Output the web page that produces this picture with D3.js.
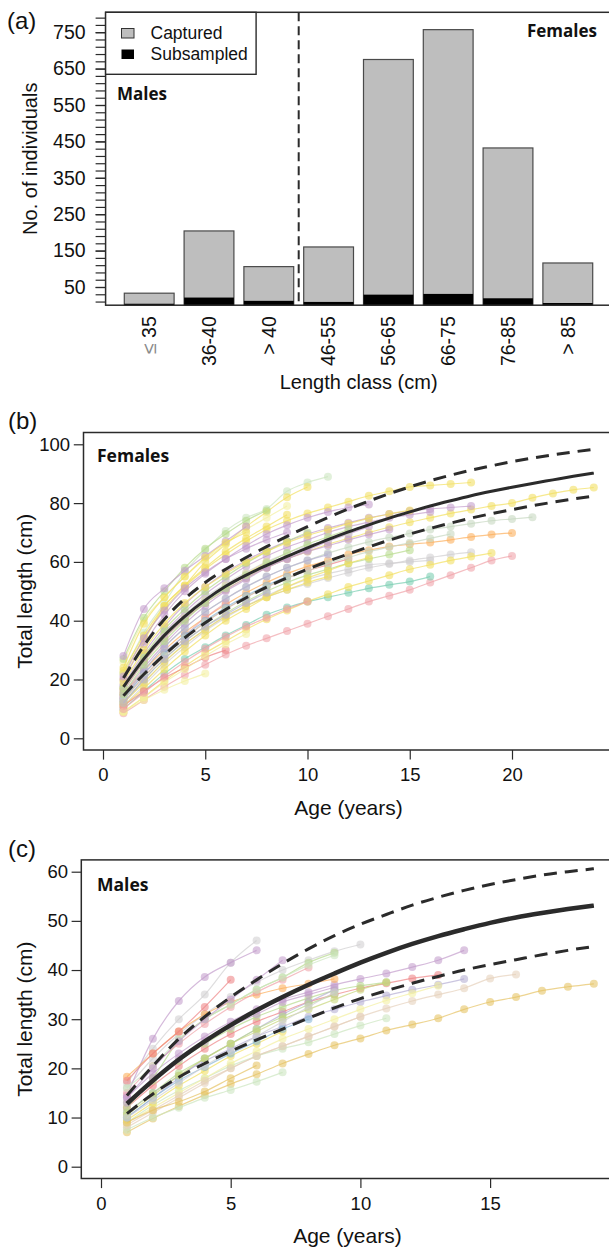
<!DOCTYPE html>
<html>
<head>
<meta charset="utf-8">
<script src="https://cdn.jsdelivr.net/npm/d3@7"></script>
<style>
  body { margin: 0; background: #fff; }
  svg { display: block; }
  text { font-family: "Liberation Sans", Arial, sans-serif; fill: #111; }
  .tag { font-family: "Open Sans", "Noto Sans", sans-serif; font-weight: 700; }
</style>
</head>
<body>
<svg id="chart" width="609" height="1249"></svg>
<script>
// ---- data: panel (a) ----
const lengthClasses = ["≤ 35", "36-40", "> 40", "46-55", "56-65", "66-75", "76-85", "> 85"];
const captured   = [33, 204, 106, 160, 675, 757, 432, 116];
const subsampled = [4, 21, 12, 9, 29, 31, 19, 6];
const countTicks = [50, 150, 250, 350, 450, 550, 650, 750];
const countMinorTicks = [10, 30, 50, 70, 90, 110, 130, 150, 170, 190, 210, 230, 250, 270, 290, 310, 330, 350,
  370, 390, 410, 430, 450, 470, 490, 510, 530, 550, 570, 590, 610, 630, 650, 670, 690, 710, 730, 750, 770, 790];

// ---- data: panel (b) females ----
const femaleAges  = [1,2,3,4,5,6,7,8,9,10,11,12,13,14,15,16,17,18,19,20,21,22,23,24];
const femaleMean  = [17.5,27,35,41.5,47,51.7,55.5,58.8,61.9,64.8,67.6,70.2,72.6,74.9,77,79,80.8,82.5,84,85.4,86.7,87.9,89.1,90.2];
const femaleUpper = [20.5,31.5,40.5,47.5,53,57.5,61.5,65.2,68.7,72,75.1,78,80.7,83.2,85.5,87.6,89.5,91.2,92.7,94.1,95.3,96.4,97.4,98.3];
const femaleLower = [14.5,21.8,28.4,34.2,39.3,43.8,47.8,51.4,54.6,57.5,60.2,62.7,65.1,67.4,69.5,71.4,73.2,74.9,76.4,77.8,79.1,80.3,81.4,82.4];
const femaleYTicks = [0, 20, 40, 60, 80, 100];
const femaleXTicks = [0, 5, 10, 15, 20];

// each fish: lengths at ages 1, 2, 3, ...
const femaleTracks = [
  [8.5,13,17.5,21.5,25,28.5,31.5,34,36.5,39,41.5,44,46.5,48.5,50.5,53,55.5,58,60.5,62],
  [15,23,30,36,41,45.5,49.5,53,56,58.5,60.5,62.5,64,65.2,66,66.6,67.5,68.5,69.3,69.8],
  [16,26,34,40.5,46,50.5,54.5,58,61,63.5,66,68,70,71.8,73.5,75,76.5,77.8,79,80,81.8,83.3,84.5,85.3],
  [14,23,31,37.5,43,47.5,51.5,55,58,60.5,63,65,66.8,68.3,69.7,71,72,73,74,74.6,75.2],
  [18,29,38,45.5,51.5,56.5,60.5,64,67,69.5,71.5,73.3,75,76.3,77.3,78,78.5,79],
  [17,27,36,43,49,54,58.5,62,65,67.5,70,72,73.5,75,76,77],
  [12,19,26,32,37,41.5,45,48,50.5,52.5,54.5,56.3,58,59.3,60.5,61.5,62.5,63.3],
  [22,34,44,51.5,57.5,62.5,67,71,74,76.5,78.5,80.5,82.5,84,85.5,86,86.5,87],
  [22,36,46,56.5,64,70.5,75,78,84,87,89],
  [20,33,45,52,60,66,72,77,82,85.5],
  [10,16,22,27,31,35,38.5,42,44.5,46.5,48,49.5,51,52.2,53.3,55],
  [15,24,32,39,45,50,54,58,61,64,67,69.5,72],
  [20,32,42,50,56,61,65.5,69.5,72.5,75,77,78.5,79.5],
  [13,21,28,34,39.5,44,48,51.5,54.5,57,59,61],
  [11,18,25,31,36.5,41,45,48.5,51.5,54,56,57.5,59,59.5,60,60.5],
  [9,14,19.5,24.5,29,33,37,40.5,43.5,46.5,49,51.5,53.5,55.5,57.5,59,60.5,61.8,63],
  [12,20,27,33,38,42.5,46.5,50,53,55.5,57.5,59.5,61,62.5,64],
  [26,40,48,55,61,66,71,75,79],
  [27,41,50,58,64.5,69.5,74,77.5],
  [28,44,51,57,62,67,72],
  [23,35,45,52,58,63.5,68,72,76],
  [14,22,29,35,41,46],
  [9,13,16.5,19.5,22],
  [17,27,35,41,47,52,56,60],
  [18,28,36,42,48,52.5,56.5,60,63,65.5,67.5,69.5],
  [16,26,34,40.5,46,50.5,54.5,58,61,63.5,65.5,67.5,69.3,71],
  [17,28,37,44,50,55,59.5,63.5,67,70],
  [13,22,29,35,40,44.5,48.5,52,55],
  [11,17,23.5,29.5,35,40,44,48,51.5,54.5,57,59.5,61.5],
  [14,23,31,37.5,43,47.5,51.5,55,58,60.5,62.5],
  [11,16,20.5,24,27.5,30],
  [9,14,19,23.5,28,32,35.5],
  [13,21,28,34,39.5,44,48,51.5,54.5,57,59.5,61.5,63.5,65,66.5,68,69.5],
  [19,30,39,46,51.5,56,60,63.5,66.5,69,71,73,74.8,76.3,77.5],
  [21,34,43.5,51,56.5,61,64.5,67.5,70],
  [10,15.5,21,26,30.5,34.5,38,41,44,46.5],
  [15,25,33,40,46,51,55.5,59.5,63,66,68.5,71],
  [12,19,26,32,37,41.5,45,48,50.5,53,55],
  [12,20,27,33,38,42,46,49.5],
  [24,39,48,55,61.5,66.5,70]
];
const femaleTrackColours = ["pink","orange","yellow","greyGreen","purple","purple","grey","yellow","paleGreen","yellow",
  "teal","purple","purple","red","grey","yellow","green","paleYellow","green","purple",
  "yellow","pink","paleYellow","yellow","grey","purple","green","blue","yellow","lilac",
  "red","paleYellow","greyGreen","yellow","purple","pink","green","yellow","lilac","yellow"];

// ---- data: panel (c) males ----
const maleAges  = [1,2,3,4,5,6,7,8,9,10,11,12,13,14,15,16,17,18,19];
const maleMean  = [12.8,17.5,21.8,25.5,28.8,31.8,34.5,37,39.3,41.5,43.5,45.3,46.9,48.3,49.6,50.7,51.6,52.4,53.1];
const maleUpper = [14.5,20.5,26,30.5,34.5,38,41.3,44.3,47,49.3,51.3,53.2,54.8,56.2,57.4,58.4,59.3,60,60.6];
const maleLower = [10.8,14.8,18.2,21,23.5,25.8,28,30.2,32.3,34.2,35.8,37.3,38.7,40,41.1,42.1,43.1,44,44.8];
const maleYTicks = [0, 10, 20, 30, 40, 50, 60];
const maleXTicks = [0, 5, 10, 15];

const maleTracks = [
  [7,9.8,12.3,14.6,16.8,18.8,21,22.9,24.7,26.1,27.7,28.9,30.2,32,33.5,34.5,35.8,36.6,37.2],
  [8,11,14,17,20,22.5,24.5,26.5,28.5,30.5,32.2,33.7,35,36.3,38.3,39.1],
  [14,19,23,26.5,29.5,32,34,35.5,37,38.2,39.3,40.6,42,44],
  [11,15,18.5,21.5,24,26.5,28.5,30.5,32,33.5,34.8,36,37,38.2],
  [12,16.5,20.5,24,27,29.5,31.5,33.5,35,36.3,37.3,38.3,39],
  [13,17.5,21.5,25,28,30.5,32.5,34.3,35.8,36.8,37.5],
  [9,12.5,15.5,18,20.5,22.5,24,25.3,27,28.7,30.2],
  [7.5,10,12,14,15.6,17.3,19.2],
  [16,22,27,31,34.5,37.5,40,42,43.8,45.2],
  [17,24,30,35,41.5,46],
  [14.5,26,33.7,38.6,41.5,44],
  [18.3,23,27.5,31,33.5,35,36.3,37.2,38.2],
  [17.5,23,27.5,32.5,38],
  [12,18,25.7,30,33,36,38.5,41.5,43.5],
  [9,12,15,18,21,23.5,26,28,30,32,33.8,35.3,36.8],
  [10,14,18,22,25,28,31,33.5,36],
  [8.5,11.5,14.5,17.5,20,22.5,24.5,26.5,28.5,30.5],
  [9.5,13,16.5,19.5,22.5,25,27.5],
  [9,11.5,13.2,15.3,18,20.6],
  [13,18,22,25.5,28.5,31,33.5,35,36.5],
  [10,14,17.5,20.3,23,25.5,28,30],
  [11,15,19,22,25,28,30.5,33,35],
  [10.5,14.5,18.5,22,25,27.5,30,32,34,36,37.5],
  [15,20.5,25,29,32.5,35.5,38,40.5],
  [16,20.5,25.8,30,33,36,38.5,41,43],
  [14,20,25.5,30,34,38,42],
  [10,13.5,17,20.5,23.5,26.5,29.5,32.5,35.5]
];
const maleTrackColours = ["gold","beige","purple","lilac","red","green","paleGreen","paleGreen","grey","grey",
  "purple","orange","red","green","paleYellow","lilac","beige","yellow","gold","purple",
  "blue","green","olive","pink","paleGreen","purple","grey"];

const palette = {
  yellow: "#f2df5e", paleYellow: "#f3efa0", purple: "#c39ccc", lilac: "#b5aed3",
  green: "#b6da8c", paleGreen: "#cce6bf", olive: "#c8d67a", pink: "#f0a2a8", red: "#ee8384",
  orange: "#fcae5a", grey: "#d0cfd0", teal: "#78cdb0", blue: "#87b6d8", beige: "#e6d0ba",
  gold: "#e6c262", greyGreen: "#c6d7c0"
};

const ink = "#2b2b2b";
const fontStack = '"Liberation Sans", Arial, sans-serif';
const svg = d3.select("#chart");
svg.append("rect").attr("width", 609).attr("height", 1249).attr("fill", "#fff");

// ================= panel (a) =================
const a = { left: 105.6, right: 611.7, top: 12.3, bottom: 305.2 };
const yA = d3.scaleLinear().domain([0, 750]).range([a.bottom, 32.2]);
const xA = d3.scaleBand().domain(lengthClasses)
  .range([119.3, 597.7]).paddingInner(0.167).paddingOuter(0.0835);

const gA = svg.append("g");

gA.selectAll(".cap").data(captured).enter().append("rect")
  .attr("x", (d, i) => xA(lengthClasses[i]))
  .attr("y", d => yA(d))
  .attr("width", xA.bandwidth())
  .attr("height", d => yA(0) - yA(d))
  .attr("fill", "#bebebe").attr("stroke", "#4a4a4a").attr("stroke-width", 1.2);

gA.selectAll(".sub").data(subsampled).enter().append("rect")
  .attr("x", (d, i) => xA(lengthClasses[i]))
  .attr("y", d => yA(d))
  .attr("width", xA.bandwidth())
  .attr("height", d => yA(0) - yA(d))
  .attr("fill", "#000");

// males | females divider
const divX = (xA("> 40") + xA.bandwidth() + xA("46-55")) / 2;
gA.append("line").attr("x1", divX).attr("x2", divX).attr("y1", a.top).attr("y2", a.bottom)
  .attr("stroke", ink).attr("stroke-width", 2).attr("stroke-dasharray", "9,5");

// axes
gA.append("g").attr("transform", `translate(${a.left},0)`)
  .call(d3.axisLeft(yA).tickValues(countMinorTicks).tickSize(10).tickFormat(""))
  .call(g => g.select(".domain").remove())
  .call(g => g.selectAll("line").attr("stroke", ink).attr("stroke-width", 1.2));
gA.append("g").attr("transform", `translate(${a.left},0)`)
  .call(d3.axisLeft(yA).tickValues(countTicks).tickSize(10).tickPadding(10))
  .call(g => g.select(".domain").remove())
  .call(g => g.selectAll("line").attr("stroke", ink).attr("stroke-width", 1.2))
  .call(g => g.selectAll("text").attr("font-size", 19.5).attr("fill", "#111")
    .style("font-family", fontStack));

gA.append("g").attr("transform", `translate(0,${a.bottom})`)
  .call(d3.axisBottom(xA).tickSize(0).tickPadding(0))
  .call(g => g.select(".domain").remove())
  .call(g => g.selectAll("text")
    .attr("transform", "rotate(-90)")
    .attr("text-anchor", "end")
    .attr("x", -11).attr("y", 0).attr("dy", "0.35em")
    .attr("font-size", 19.5).attr("fill", "#111")
    .style("font-family", fontStack)
    .each(function (d) {
      if (d.startsWith("≤")) {
        const t = d3.select(this).text("");
        t.append("tspan").attr("fill", "#8a8a8a").text("≤");
        t.append("tspan").text(" 35");
      }
    }));

gA.append("rect").attr("x", a.left).attr("y", a.top)
  .attr("width", a.right - a.left).attr("height", a.bottom - a.top)
  .attr("fill", "none").attr("stroke", ink).attr("stroke-width", 1.5);

// legend
gA.append("rect").attr("x", a.left).attr("y", a.top).attr("width", 150.5).attr("height", 62)
  .attr("fill", "#fff").attr("stroke", ink).attr("stroke-width", 1.4);
gA.append("rect").attr("x", 121.5).attr("y", 28.5).attr("width", 12.5).attr("height", 9.5)
  .attr("fill", "#bebebe").attr("stroke", "#333").attr("stroke-width", 1);
gA.append("rect").attr("x", 121.5).attr("y", 49.5).attr("width", 12.5).attr("height", 9.5)
  .attr("fill", "#000");
gA.append("text").attr("x", 150.5).attr("y", 38.5).attr("font-size", 17.5).text("Captured");
gA.append("text").attr("x", 150.5).attr("y", 60).attr("font-size", 17.5).text("Subsampled");

gA.append("text").attr("class", "tag").attr("x", 117).attr("y", 100).attr("font-size", 17).text("Males");
gA.append("text").attr("class", "tag").attr("x", 527).attr("y", 37).attr("font-size", 17).text("Females");

gA.append("text").attr("x", (a.left + a.right) / 2).attr("y", 389).attr("text-anchor", "middle")
  .attr("font-size", 20).text("Length class (cm)");
gA.append("text").attr("transform", `translate(37,${(a.top + a.bottom) / 2}) rotate(-90)`)
  .attr("text-anchor", "middle").attr("font-size", 20).text("No. of individuals");
gA.append("text").attr("x", 7).attr("y", 29).attr("font-size", 24).text("(a)");

// ================= growth panels =================
function growthPanel(opt) {
  const g = svg.append("g");
  const x = d3.scaleLinear().domain([0, opt.xTicks[opt.xTicks.length - 1]]).range(opt.xRange);
  const y = d3.scaleLinear().domain([0, opt.yTicks[opt.yTicks.length - 1]]).range(opt.yRange);
  const box = opt.box;

  const line = d3.line().x(d => x(d[0])).y(d => y(d[1])).curve(d3.curveMonotoneX);

  // individual fish
  opt.tracks.forEach((vals, i) => {
    const pts = vals.map((v, j) => [j + 1, v]);
    const col = palette[opt.colours[i]];
    g.append("path").datum(pts).attr("d", line)
      .attr("fill", "none").attr("stroke", col).attr("stroke-width", 1.2).attr("stroke-opacity", 0.7);
    g.selectAll(null).data(pts).enter().append("circle")
      .attr("cx", d => x(d[0])).attr("cy", d => y(d[1])).attr("r", 4)
      .attr("fill", col).attr("fill-opacity", 0.58);
  });

  // population curve and bounds
  const meanLine = d3.line().x((d, i) => x(opt.ages[i])).y(d => y(d)).curve(d3.curveMonotoneX);
  [opt.upper, opt.lower].forEach(s => {
    g.append("path").datum(s).attr("d", meanLine).attr("fill", "none")
      .attr("stroke", ink).attr("stroke-width", 3).attr("stroke-dasharray", "13,8");
  });
  g.append("path").datum(opt.mean).attr("d", meanLine).attr("fill", "none")
    .attr("stroke", ink).attr("stroke-width", opt.meanWidth);

  // axes
  g.append("g").attr("transform", `translate(${box.left},0)`)
    .call(d3.axisLeft(y).tickValues(opt.yTicks).tickSize(9.7).tickPadding(opt.yPad))
    .call(s => s.select(".domain").remove())
    .call(s => s.selectAll("line").attr("stroke", ink).attr("stroke-width", 1.2))
    .call(s => s.selectAll("text").attr("font-size", 18.5).attr("fill", "#111")
      .style("font-family", fontStack));
  g.append("g").attr("transform", `translate(0,${box.bottom})`)
    .call(d3.axisBottom(x).tickValues(opt.xTicks).tickSize(9.6).tickPadding(8.5))
    .call(s => s.select(".domain").remove())
    .call(s => s.selectAll("line").attr("stroke", ink).attr("stroke-width", 1.2))
    .call(s => s.selectAll("text").attr("font-size", 18.5).attr("fill", "#111")
      .style("font-family", fontStack));

  g.append("rect").attr("x", box.left).attr("y", box.top)
    .attr("width", box.right - box.left).attr("height", box.bottom - box.top)
    .attr("fill", "none").attr("stroke", ink).attr("stroke-width", 1.5);

  g.append("text").attr("class", "tag").attr("x", 97).attr("y", opt.tagY)
    .attr("font-size", 17.5).text(opt.tag);
  g.append("text").attr("x", (box.left + box.right) / 2).attr("y", opt.xTitleY)
    .attr("text-anchor", "middle").attr("font-size", 21).text("Age (years)");
  g.append("text").attr("transform", `translate(32,${(box.top + box.bottom) / 2}) rotate(-90)`)
    .attr("text-anchor", "middle").attr("font-size", 21).text("Total length (cm)");
  g.append("text").attr("x", 8).attr("y", opt.letterY).attr("font-size", 24).text(opt.letter);
}

growthPanel({
  letter: "(b)", letterY: 429, tag: "Females", tagY: 462,
  box: { left: 83.5, right: 613.5, top: 432.5, bottom: 750 },
  xRange: [103, 103 + 20 * 20.45], yRange: [738.3, 444.3],
  xTicks: femaleXTicks, yTicks: femaleYTicks, yPad: 3.8, xTitleY: 815,
  tracks: femaleTracks, colours: femaleTrackColours,
  ages: femaleAges, mean: femaleMean, upper: femaleUpper, lower: femaleLower, meanWidth: 3
});

growthPanel({
  letter: "(c)", letterY: 857, tag: "Males", tagY: 891,
  box: { left: 81.3, right: 613.6, top: 859.9, bottom: 1178.5 },
  xRange: [101, 101 + 15 * 25.94], yRange: [1166.7, 871.7],
  xTicks: maleXTicks, yTicks: maleYTicks, yPad: 3.5, xTitleY: 1243,
  tracks: maleTracks, colours: maleTrackColours,
  ages: maleAges, mean: maleMean, upper: maleUpper, lower: maleLower, meanWidth: 4.5
});
</script>
</body>
</html>
